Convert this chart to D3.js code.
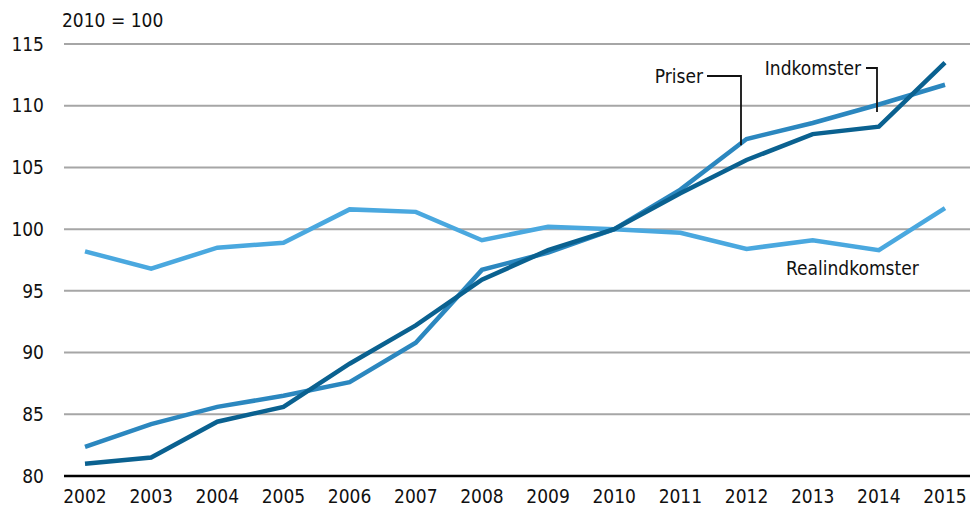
<!DOCTYPE html>
<html>
<head>
<meta charset="utf-8">
<script src="https://d3js.org/d3.v7.min.js"></script>
<style>
  body { margin: 0; background: #fff; }
  text { font-family: "Liberation Sans Narrow", "DejaVu Sans Condensed", "Open Sans", sans-serif; fill: #111; }
</style>
</head>
<body>
<div id="chart"></div>
<script>
// data (2010 = 100)
const years = [2002, 2003, 2004, 2005, 2006, 2007, 2008, 2009, 2010, 2011, 2012, 2013, 2014, 2015];
const indkomster = [81.0, 81.5, 84.4, 85.6, 89.1, 92.2, 95.9, 98.3, 100, 102.9, 105.6, 107.7, 108.3, 113.5];
const priser = [82.35, 84.2, 85.6, 86.5, 87.6, 90.8, 96.7, 98.1, 100, 103.2, 107.3, 108.6, 110.1, 111.7];
const realindkomster = [98.2, 96.8, 98.5, 98.9, 101.6, 101.4, 99.1, 100.2, 100, 99.7, 98.4, 99.1, 98.3, 101.7];
const yTicks = [80, 85, 90, 95, 100, 105, 110, 115];

const width = 970, height = 512;
const svg = d3.select("#chart").append("svg")
    .attr("width", width)
    .attr("height", height);

const x = d3.scalePoint().domain(years).range([85, 945]);
const y = d3.scaleLinear().domain([80, 115]).range([476, 44]);

// gridlines
svg.append("g")
    .selectAll("line")
    .data(yTicks.filter(d => d !== 80))
    .enter().append("line")
    .attr("x1", 64).attr("x2", 970)
    .attr("y1", d => y(d)).attr("y2", d => y(d))
    .attr("stroke", "#a6a6a6")
    .attr("stroke-width", 2);

// baseline
svg.append("line")
    .attr("x1", 64).attr("x2", 970)
    .attr("y1", y(80)).attr("y2", y(80))
    .attr("stroke", "#000")
    .attr("stroke-width", 2.5);

// y labels
svg.append("g")
    .selectAll("text")
    .data(yTicks)
    .enter().append("text")
    .attr("x", 44)
    .attr("y", d => y(d))
    .attr("dy", "0.35em")
    .attr("text-anchor", "end")
    .style("font-size", "19px")
    .text(d => d);

// x labels
svg.append("g")
    .selectAll("text")
    .data(years)
    .enter().append("text")
    .attr("x", d => x(d))
    .attr("y", 503)
    .attr("text-anchor", "middle")
    .style("font-size", "19px")
    .text(d => d);

svg.append("text")
    .attr("x", 62).attr("y", 27)
    .style("font-size", "19px")
    .text("2010 = 100");

const line = d3.line()
    .x((d, i) => x(years[i]))
    .y(d => y(d));

const series = [
  { values: realindkomster, color: "#4aa8df" },
  { values: priser, color: "#2b87bf" },
  { values: indkomster, color: "#0a6190" }
];

svg.selectAll(".series")
    .data(series)
    .enter().append("path")
    .attr("class", "series")
    .attr("d", d => line(d.values))
    .attr("fill", "none")
    .attr("stroke", d => d.color)
    .attr("stroke-width", 4.5)
    .attr("stroke-linejoin", "miter");

// labels with leader lines
svg.append("text")
    .attr("x", 703).attr("y", 83)
    .attr("text-anchor", "end")
    .style("font-size", "19px")
    .text("Priser");
svg.append("path")
    .attr("d", `M707,76 H741 V${y(106.8)}`)
    .attr("fill", "none").attr("stroke", "#111").attr("stroke-width", 1.8);

svg.append("text")
    .attr("x", 861).attr("y", 75)
    .attr("text-anchor", "end")
    .style("font-size", "19px")
    .text("Indkomster");
svg.append("path")
    .attr("d", `M866,68 H877 V${y(109.5)}`)
    .attr("fill", "none").attr("stroke", "#111").attr("stroke-width", 1.8);

svg.append("text")
    .attr("x", 786).attr("y", 275)
    .style("font-size", "19px")
    .text("Realindkomster");
</script>
</body>
</html>
